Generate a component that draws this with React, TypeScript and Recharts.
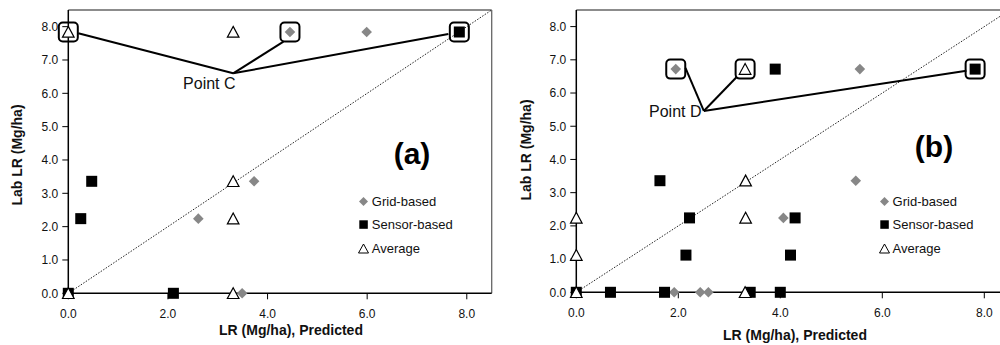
import React from "react";
import {
  Customized,
  Legend,
  ReferenceDot,
  ReferenceLine,
  Scatter,
  ScatterChart,
  XAxis,
  YAxis,
} from "recharts";

const FONT = '"Liberation Sans", Arial, Helvetica, sans-serif';
const CHART_H = 345;
const AXIS_MAX = 8.5;
const X_TICKS = [0, 2, 4, 6, 8];
const Y_TICKS = [0, 1, 2, 3, 4, 5, 6, 7, 8];
const SERIES_NAMES = ["Grid-based", "Sensor-based", "Average"];

type Pt = { x: number; y: number };

// ---- panel (a)
const gridA: Pt[] = [
  { x: 4.45, y: 7.84 },
  { x: 5.99, y: 7.84 },
  { x: 3.73, y: 3.36 },
  { x: 2.61, y: 2.24 },
  { x: 3.49, y: 0 },
];
const sensorA: Pt[] = [
  { x: 7.85, y: 7.84 },
  { x: 0.47, y: 3.36 },
  { x: 0.25, y: 2.24 },
  { x: 2.11, y: 0 },
  { x: 0, y: 0 },
];
const averageA: Pt[] = [
  { x: 0, y: 7.84 },
  { x: 3.31, y: 7.84 },
  { x: 3.31, y: 3.36 },
  { x: 3.31, y: 2.24 },
  { x: 3.31, y: 0 },
  { x: 0, y: 0 },
];
const boxedA: Pt[] = [
  { x: 0, y: 7.84 },
  { x: 4.45, y: 7.84 },
  { x: 7.85, y: 7.84 },
];
const vertexA: Pt = { x: 3.31, y: 6.6 };
const calloutEndsA: Pt[] = [
  { x: 0.2, y: 7.8 },
  { x: 4.32, y: 7.55 },
  { x: 7.63, y: 7.78 },
];

// ---- panel (b)
const gridB: Pt[] = [
  { x: 1.95, y: 6.72 },
  { x: 5.56, y: 6.72 },
  { x: 5.48, y: 3.36 },
  { x: 4.06, y: 2.24 },
  { x: 1.92, y: 0 },
  { x: 2.43, y: 0 },
  { x: 2.59, y: 0 },
];
const sensorB: Pt[] = [
  { x: 7.82, y: 6.72 },
  { x: 3.9, y: 6.72 },
  { x: 1.64, y: 3.36 },
  { x: 2.22, y: 2.24 },
  { x: 2.15, y: 1.12 },
  { x: 4.29, y: 2.24 },
  { x: 4.2, y: 1.12 },
  { x: 0, y: 0 },
  { x: 0.67, y: 0 },
  { x: 1.73, y: 0 },
  { x: 3.41, y: 0 },
  { x: 4.0, y: 0 },
];
const averageB: Pt[] = [
  { x: 3.31, y: 6.72 },
  { x: 3.32, y: 3.36 },
  { x: 3.32, y: 2.24 },
  { x: 3.31, y: 0 },
  { x: 0, y: 2.24 },
  { x: 0, y: 1.12 },
  { x: 0, y: 0 },
];
const boxedB: Pt[] = [
  { x: 1.95, y: 6.72 },
  { x: 3.31, y: 6.72 },
  { x: 7.82, y: 6.72 },
];
const vertexB: Pt = { x: 2.5, y: 5.46 };
const calloutEndsB: Pt[] = [
  { x: 2.14, y: 6.76 },
  { x: 3.15, y: 6.49 },
  { x: 7.65, y: 6.67 },
];

// ---- marker shapes
const diamond = (p: any) => {
  const { cx, cy } = p;
  const r = 5.3;
  return (
    <polygon
      points={`${cx},${cy - r} ${cx + r},${cy} ${cx},${cy + r} ${cx - r},${cy}`}
      fill="#878787"
    />
  );
};
const square = (p: any) => <rect x={p.cx - 5.5} y={p.cy - 5.5} width={11} height={11} fill="#000" />;
const triangle = (p: any) => {
  const { cx, cy } = p;
  return (
    <polygon
      points={`${cx},${cy - 5.6} ${cx + 5.8},${cy + 5.2} ${cx - 5.8},${cy + 5.2}`}
      fill="#fff"
      stroke="#000"
      strokeWidth={1.2}
    />
  );
};
const box = (p: any) => (
  <rect x={p.cx - 9.5} y={p.cy - 9.5} width={19} height={19} rx={4} fill="none" stroke="#000" strokeWidth={2} />
);

const legendIcon = (name: string) => {
  if (name === "Grid-based") return <polygon points="5.5,1 10,5.5 5.5,10 1,5.5" fill="#878787" />;
  if (name === "Sensor-based") return <rect x={1.3} y={1.3} width={8.5} height={8.5} fill="#000" />;
  return <polygon points="5.5,1 10.5,10 0.5,10" fill="#fff" stroke="#000" strokeWidth={1} />;
};

// keep the series order of the original legend, drop the highlight series
const renderLegend = (props: any) => {
  const names = (props.payload || []).map((e: any) => e.value);
  const items = SERIES_NAMES.filter((n) => names.includes(n));
  return (
    <div style={{ display: "flex", flexDirection: "column", fontSize: 13, color: "#111" }}>
      {items.map((n) => (
        <div key={n} style={{ height: 23.3, display: "flex", alignItems: "center" }}>
          <svg width={11} height={11} style={{ display: "block" }}>
            {legendIcon(n)}
          </svg>
          <span style={{ marginLeft: 2.8, whiteSpace: "nowrap" }}>{n}</span>
        </div>
      ))}
    </div>
  );
};

type PanelProps = {
  left: number;
  width: number;
  plotLeft: number;
  plotRight: number;
  plotBottom: number;
  grid: Pt[];
  sensor: Pt[];
  average: Pt[];
  boxed: Pt[];
  vertex: Pt;
  calloutEnds: Pt[];
  pointName: string;
  pointDx: number;
  pointDy: number;
  tag: string;
  tagX: number;
  tagY: number;
  legendLeft: number;
  yTitleX: number;
  yTitleY: number;
  xTitleX: number;
  xTitleY: number;
};

function Panel(p: PanelProps) {
  const tick = { fontSize: 12, fill: "#111" };
  return (
    <div style={{ position: "absolute", left: p.left, top: 0 }}>
      <ScatterChart
        width={p.width}
        height={CHART_H}
        margin={{ top: 10, right: p.width - p.plotRight, bottom: 0, left: 0 }}
      >
        <XAxis
          type="number"
          dataKey="x"
          domain={[0, AXIS_MAX]}
          ticks={X_TICKS}
          tickFormatter={(v: number) => v.toFixed(1)}
          tick={tick}
          tickSize={6}
          tickMargin={10}
          tickLine={{ stroke: "#000" }}
          axisLine={{ stroke: "#000", strokeWidth: 1.5 }}
          height={CHART_H - p.plotBottom}
          label={() => (
            <text x={p.xTitleX} y={p.xTitleY} textAnchor="middle" fontSize={14} fontWeight="bold" fill="#111">
              LR (Mg/ha), Predicted
            </text>
          )}
        />
        <YAxis
          type="number"
          dataKey="y"
          domain={[0, AXIS_MAX]}
          ticks={Y_TICKS}
          tickFormatter={(v: number) => v.toFixed(1)}
          tick={tick}
          tickSize={6}
          tickMargin={4}
          tickLine={{ stroke: "#000" }}
          axisLine={{ stroke: "#000", strokeWidth: 1.5 }}
          width={p.plotLeft}
          label={() => (
            <text
              x={p.yTitleX}
              y={p.yTitleY}
              transform={`rotate(-90 ${p.yTitleX} ${p.yTitleY})`}
              textAnchor="middle"
              dominantBaseline="central"
              fontSize={14}
              fontWeight="bold"
              fill="#111"
            >
              Lab LR (Mg/ha)
            </text>
          )}
        />
        <ReferenceLine y={AXIS_MAX} stroke="#666" strokeWidth={1.3} />
        <ReferenceLine x={AXIS_MAX} stroke="#666" strokeWidth={1.3} />
        <ReferenceLine
          segment={[
            { x: 0, y: 0 },
            { x: AXIS_MAX, y: AXIS_MAX },
          ]}
          stroke="#222"
          strokeWidth={1}
          strokeDasharray="1.5 1.5"
        />
        <Scatter name="Grid-based" data={p.grid} shape={diamond} isAnimationActive={false} />
        <Scatter name="Sensor-based" data={p.sensor} shape={square} isAnimationActive={false} />
        <Scatter name="Average" data={p.average} shape={triangle} isAnimationActive={false} />
        <Scatter name="boxed" data={p.boxed} shape={box} legendType="none" isAnimationActive={false} />
        {p.calloutEnds.map((e, i) => (
          <ReferenceLine key={`c-${i}`} segment={[p.vertex, e]} stroke="#000" strokeWidth={2} />
        ))}
        <ReferenceDot
          x={p.vertex.x}
          y={p.vertex.y}
          r={0}
          fill="none"
          stroke="none"
          label={(lp: any) => (
            <text
              x={lp.viewBox.x + p.pointDx}
              y={lp.viewBox.y + p.pointDy}
              textAnchor="end"
              fontSize={16}
              fill="#111"
            >
              {p.pointName}
            </text>
          )}
        />
        <Customized
          component={() => (
            <text x={p.tagX} y={p.tagY} textAnchor="middle" fontSize={30} fontWeight="bold" fill="#000">
              {p.tag}
            </text>
          )}
        />
        <Legend
          layout="vertical"
          align="center"
          verticalAlign="middle"
          wrapperStyle={{ left: p.legendLeft, top: 190, width: 140, height: "auto" }}
          content={renderLegend}
        />
      </ScatterChart>
    </div>
  );
}

export default function App() {
  return (
    <div
      style={{
        position: "fixed",
        left: 0,
        top: 0,
        width: 1000,
        height: CHART_H,
        overflow: "hidden",
        background: "#fff",
        fontFamily: FONT,
      }}
    >
      <Panel
        left={0}
        width={500}
        plotLeft={68.3}
        plotRight={491.7}
        plotBottom={293.3}
        grid={gridA}
        sensor={sensorA}
        average={averageA}
        boxed={boxedA}
        vertex={vertexA}
        calloutEnds={calloutEndsA}
        pointName="Point C"
        pointDx={2.4}
        pointDy={15.7}
        tag="(a)"
        tagX={412}
        tagY={164}
        legendLeft={358}
        yTitleX={17.3}
        yTitleY={155}
        xTitleX={291}
        xTitleY={335}
      />
      <Panel
        left={500}
        width={520}
        plotLeft={76.3}
        plotRight={509.8}
        plotBottom={292.3}
        grid={gridB}
        sensor={sensorB}
        average={averageB}
        boxed={boxedB}
        vertex={vertexB}
        calloutEnds={calloutEndsB}
        pointName="Point D"
        pointDx={-2.3}
        pointDy={6}
        tag="(b)"
        tagX={434}
        tagY={157}
        legendLeft={378.8}
        yTitleX={25.7}
        yTitleY={150}
        xTitleX={295}
        xTitleY={340}
      />
    </div>
  );
}
